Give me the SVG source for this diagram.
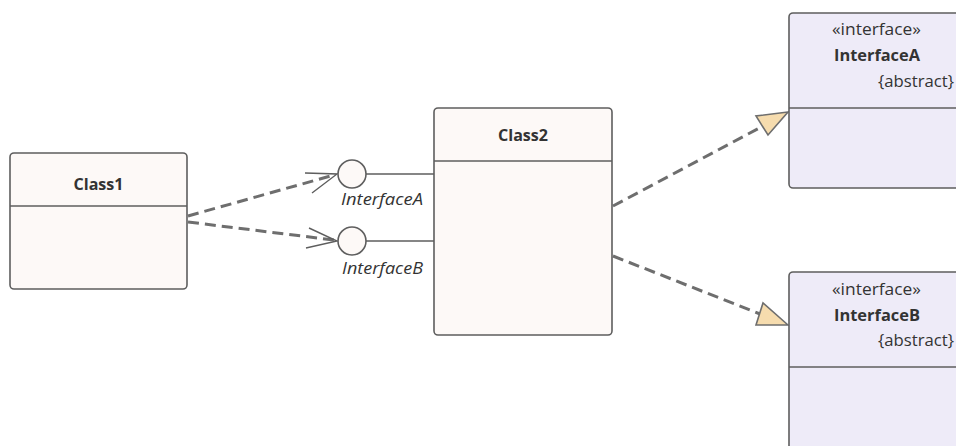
<svg xmlns="http://www.w3.org/2000/svg" width="956" height="446" viewBox="0 0 956 446">
<style>
.cls{fill:#fdf9f7;stroke:#5e5e5e;stroke-width:1.6}
.ifc{fill:#eeebf8;stroke:#5e5e5e;stroke-width:1.6}
.div{stroke:#5e5e5e;stroke-width:1.6}
.t{font-family:"Open Sans","Noto Sans",sans-serif;font-size:16.5px;fill:#333}
.b{font-weight:bold;text-anchor:middle}
.i{font-style:italic}
.dash{fill:none;stroke:#6e6e6e;stroke-width:3;stroke-dasharray:11 6}
.thin{fill:none;stroke:#5e5e5e;stroke-width:1.4}
.tri{fill:#f6dcae;stroke:#6e6e6e;stroke-width:1.6;stroke-linejoin:miter}
</style>
<g id="connectors">
<line class="dash" x1="188" y1="216" x2="334" y2="175"/>
<polyline class="thin" points="305,173 337,174 312,193"/>
<line class="dash" x1="188" y1="222" x2="334" y2="240"/>
<polyline class="thin" points="309,228 337,241 306,248"/>
<line class="thin" x1="366" y1="174" x2="434" y2="174"/>
<line class="thin" x1="366" y1="241" x2="434" y2="241"/>
<line class="dash" x1="613" y1="206" x2="765" y2="125"/>
<polygon class="tri" points="788,112 756,116 768,135"/>
<line class="dash" x1="613" y1="256" x2="760" y2="314"/>
<polygon class="tri" points="788,325 763,303 756,325"/>
</g>
<g id="Class1">
<rect class="cls" x="10" y="153" width="177" height="136" rx="4"/>
<line class="div" x1="10" y1="206" x2="187" y2="206"/>
<text class="t b" x="98.5" y="190" textLength="50" lengthAdjust="spacingAndGlyphs">Class1</text>
</g>
<g id="InterfaceA_port">
<circle class="cls" cx="352" cy="174" r="14"/>
<text class="t i" x="341" y="205" textLength="82" lengthAdjust="spacingAndGlyphs">InterfaceA</text>
</g>
<g id="InterfaceB_port">
<circle class="cls" cx="352" cy="241" r="14"/>
<text class="t i" x="342" y="274" textLength="81" lengthAdjust="spacingAndGlyphs">InterfaceB</text>
</g>
<g id="Class2">
<rect class="cls" x="434" y="108" width="178" height="227" rx="4"/>
<line class="div" x1="434" y1="161" x2="612" y2="161"/>
<text class="t b" x="523" y="141" textLength="50" lengthAdjust="spacingAndGlyphs">Class2</text>
</g>
<g id="InterfaceA">
<rect class="ifc" x="789" y="13" width="190" height="175" rx="4"/>
<line class="div" x1="789" y1="108" x2="979" y2="108"/>
<text class="t" x="832" y="35" textLength="89" lengthAdjust="spacingAndGlyphs">«interface»</text>
<text class="t" x="834" y="61" font-weight="bold" textLength="86" lengthAdjust="spacingAndGlyphs">InterfaceA</text>
<text class="t" x="878" y="87" textLength="76" lengthAdjust="spacingAndGlyphs">{abstract}</text>
</g>
<g id="InterfaceB">
<rect class="ifc" x="789" y="272" width="190" height="190" rx="4"/>
<line class="div" x1="789" y1="367" x2="979" y2="367"/>
<text class="t" x="832" y="295" textLength="89" lengthAdjust="spacingAndGlyphs">«interface»</text>
<text class="t" x="834" y="321" font-weight="bold" textLength="86" lengthAdjust="spacingAndGlyphs">InterfaceB</text>
<text class="t" x="878" y="346" textLength="76" lengthAdjust="spacingAndGlyphs">{abstract}</text>
</g>
</svg>
